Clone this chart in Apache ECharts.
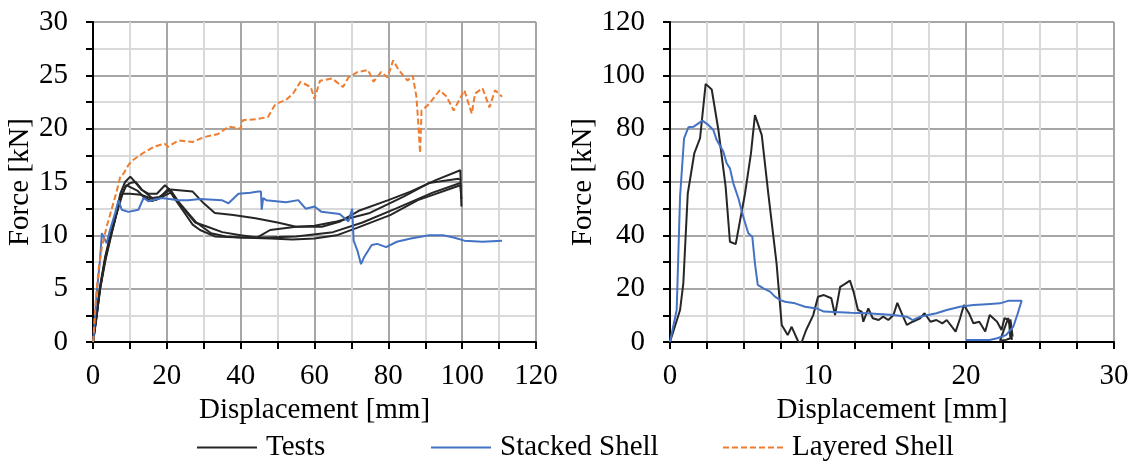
<!DOCTYPE html>
<html>
<head>
<meta charset="utf-8">
<script src="https://cdn.jsdelivr.net/npm/echarts@6/dist/echarts.min.js"></script>
<style>
  html, body { margin: 0; padding: 0; background: #fff; }
  #main { width: 1134px; height: 468px; }
</style>
</head>
<body>
<div id="main"></div>
<script>
// left panel: [displacement mm, force kN]
var leftTest1 = [[0, 0], [1, 2.4], [1.9, 5], [3.3, 7.8], [4.6, 9.7], [6, 11.5], [7.4, 13.5], [8.7, 14.5], [10, 14.9], [11.5, 15.0], [13.2, 14.3], [16, 13.5], [18, 13.6], [21, 14.3], [24, 14.2], [27, 14.1], [30, 13.0], [33, 12.1], [38, 11.9], [44, 11.6], [50, 11.2], [55, 10.8], [62, 10.8], [67, 11.3], [72, 12.3], [80, 13.3], [86, 14.1], [93, 15.2], [99.5, 16.1], [99.8, 12.7]];
var leftTest2 = [[0, 0], [1, 2.5], [1.9, 5.2], [3.3, 8], [4.6, 9.9], [6, 11.7], [7.4, 13.9], [8.7, 15], [10.1, 15.5], [11.4, 15], [13.2, 14.25], [15, 13.9], [17.3, 13.9], [19.5, 14.7], [21.3, 14.1], [24, 12.7], [27.7, 11.2], [31, 10.8], [35, 10.3], [40, 10.0], [44.5, 9.8], [48, 10.5], [55, 10.8], [60, 10.9], [66, 11.3], [75, 12.1], [84, 13.6], [91, 14.9], [99, 15.3], [99.7, 15.2]];
var leftTest3 = [[0, 0], [0.8, 2.2], [1.8, 4.8], [3.1, 7.4], [4.4, 9.4], [5.8, 11.3], [7.2, 13.2], [9, 14.7], [12, 14.2], [14, 13.5], [16, 13.2], [18, 13.5], [20.5, 14.4], [22, 13.5], [25, 12.0], [27, 11.0], [29, 10.5], [33, 9.9], [40, 9.8], [48, 9.7], [54, 9.6], [60, 9.7], [66, 10.0], [71.5, 10.7], [80.5, 11.9], [88, 13.3], [99.5, 14.7], [99.8, 13.4]];
var leftTest4 = [[0, 0], [0.9, 2.3], [2, 5.1], [3.4, 7.7], [4.8, 9.8], [6.2, 11.8], [8, 13.9], [10, 13.9], [13, 13.8], [17, 13.3], [21, 14.0], [24, 12.8], [28, 11.2], [32, 10.2], [36, 9.9], [40, 9.8], [47, 9.8], [55, 9.9], [65, 10.3], [73, 11.2], [82, 12.5], [92, 14.0], [99.5, 14.9]];
var leftStacked = [[0, 0], [0.1, 0.2], [1, 4.6], [1.9, 7.7], [2.4, 10.2], [3.7, 9.25], [4.6, 10.5], [6, 12.1], [6.9, 13.3], [7.8, 12.4], [9.6, 12.2], [12.3, 12.4], [13.7, 13.5], [15, 13.2], [18.6, 13.5], [23.2, 13.3], [25.8, 13.3], [29, 13.4], [34.9, 13.3], [36.7, 13.0], [39.4, 13.9], [42.6, 14.0], [44.8, 14.1], [45.5, 14.1], [45.7, 12.4], [46.1, 13.5], [46.9, 13.3], [52.3, 13.1], [55.6, 13.3], [57.6, 12.5], [60, 12.7], [61.9, 12.2], [66.8, 12.0], [69.2, 11.3], [70.2, 12.5], [70.6, 9.5], [71.6, 8.6], [72.6, 7.3], [73.5, 8.0], [75.5, 9.1], [77, 9.2], [79.4, 8.9], [82.3, 9.4], [86.1, 9.7], [91, 10.0], [94.8, 10.0], [97.7, 9.8], [100.6, 9.5], [105.5, 9.4], [110.8, 9.5]];
var leftLayered = [[0, 0], [0.1, 0.2], [0.6, 3.3], [1.5, 6.75], [2.4, 8.9], [3.7, 10.8], [4.6, 11.9], [5.5, 13], [6.4, 14.1], [7.4, 15.5], [8.3, 15.8], [9.6, 16.6], [10.6, 17.0], [13.5, 17.7], [16.5, 18.3], [19.4, 18.6], [20.3, 18.3], [23.2, 18.9], [27, 18.75], [30, 19.2], [33.9, 19.5], [36.8, 20.2], [40, 20.0], [40.6, 20.8], [44.5, 20.9], [47.4, 21.1], [49.4, 22.3], [52.3, 22.7], [54.2, 23.3], [56.2, 24.4], [59, 23.9], [60, 22.8], [61.5, 24.5], [64.8, 24.7], [67.7, 23.9], [69.2, 24.8], [71.6, 25.3], [74.5, 25.5], [76, 24.4], [78, 25.3], [79.8, 24.8], [81.3, 26.4], [82.8, 25.5], [85.2, 24.5], [86.6, 25.0], [87.6, 23.0], [88, 21.1], [88.6, 17.7], [89, 21.7], [91, 22.3], [93.9, 23.6], [95.8, 23.0], [97.7, 21.7], [100.6, 23.6], [102.6, 21.4], [103.5, 23.3], [105.5, 23.8], [107.4, 22.0], [108.9, 23.6], [110.8, 23.0]];

// right panel: [displacement mm, force kN]
var rightTest = [[0, 0], [0.68, 12], [0.9, 22], [1.2, 55.7], [1.64, 70.7], [2.03, 76.4], [2.41, 96.8], [2.82, 94.7], [3.27, 79.5], [3.76, 58.2], [4.05, 37.6], [4.44, 36.7], [5.07, 55.7], [5.47, 70.7], [5.74, 85.1], [6.2, 77.6], [6.64, 55.7], [7.2, 29.5], [7.55, 6.4], [7.95, 2.6], [8.22, 5.7], [8.67, 0.1], [8.9, 0], [9.2, 4.5], [9.68, 10.1], [10.0, 17], [10.4, 17.6], [10.9, 16.4], [11.15, 10.1], [11.5, 20.7], [11.8, 21.7], [12.16, 23], [12.4, 18.9], [12.7, 12], [12.95, 11.4], [13.06, 7.6], [13.4, 12.6], [13.7, 8.9], [14.1, 8.25], [14.4, 9.5], [14.75, 8.25], [15.1, 10.1], [15.36, 14.7], [15.65, 10.8], [16.0, 6.4], [16.4, 7.6], [16.9, 8.9], [17.2, 10.8], [17.6, 7.6], [18.0, 8.25], [18.4, 7], [18.7, 8.25], [19.3, 3.9], [19.6, 8.9], [19.86, 13.9], [20.2, 10.8], [20.5, 7], [20.9, 7.6], [21.3, 3.9], [21.6, 10.1], [22.1, 7.6], [22.4, 4.5], [22.6, 8.9], [22.9, 8.25], [23.0, 1.4], [22.7, 0.8], [22.3, 0.5], [22.85, 9], [23.1, 0.8], [23.0, 8.5], [23.15, 2]];
var rightStacked = [[0, 0], [0.45, 12], [0.68, 54.5], [0.95, 76.4], [1.24, 80.5], [1.58, 80.7], [2.19, 83], [2.59, 81.4], [2.93, 79.5], [3.15, 75.8], [3.6, 71.4], [3.83, 67], [4.05, 65.1], [4.28, 59.5], [4.62, 53.9], [4.95, 47], [5.29, 40.8], [5.56, 39.5], [5.74, 29.5], [5.93, 21.4], [6.31, 20.1], [6.76, 18.9], [7.09, 17], [7.43, 15.8], [7.77, 15.1], [8.45, 14.5], [9.12, 13.2], [9.9, 12.6], [10.4, 11.4], [12.2, 11.0], [13.3, 10.8], [15.1, 10.1], [16.0, 9.5], [16.4, 8.2], [16.9, 9.5], [18.0, 10.8], [18.7, 12], [19.6, 13.2], [20.5, 13.9], [21.4, 14.2], [22.3, 14.5], [22.9, 15.5], [23.76, 15.5], [23.5, 10.8], [23.2, 5.8], [22.7, 2.6], [22.1, 1.4], [21.6, 0.75], [20.0, 0.75]];

var chartDom = document.getElementById('main');
var myChart = echarts.init(chartDom);
var option;

var FONT = '"Liberation Serif", "Times New Roman", serif';
var FS = 29;
var testColor = '#262626';
var blue = '#4472C4';
var orange = '#ED7D31';

function xAxis(grid, max, interval, minorSplit) {
  return {
    type: 'value',
    gridIndex: grid,
    min: 0,
    max: max,
    interval: interval,
    name: 'Displacement [mm]',
    nameLocation: 'middle',
    nameGap: 50,
    nameTextStyle: { fontFamily: FONT, fontSize: FS, color: '#000' },
    axisLine: { lineStyle: { color: '#000', width: 2 } },
    axisTick: { length: 7, lineStyle: { color: '#000', width: 2 } },
    minorTick: { show: true, splitNumber: minorSplit, length: 7, lineStyle: { color: '#000', width: 2 } },
    axisLabel: { fontFamily: FONT, fontSize: FS, color: '#000', margin: 20 },
    splitLine: { lineStyle: { color: '#a6a6a6', width: 2 } },
    minorSplitLine: { show: true, lineStyle: { color: '#d9d9d9', width: 2 } }
  };
}

function yAxis(grid, max, interval) {
  return {
    type: 'value',
    gridIndex: grid,
    min: 0,
    max: max,
    interval: interval,
    name: 'Force [kN]',
    nameLocation: 'middle',
    nameGap: 56,
    nameTextStyle: { fontFamily: FONT, fontSize: FS, color: '#000' },
    axisLine: { show: true, lineStyle: { color: '#000', width: 2 } },
    axisTick: { show: true, length: 7, lineStyle: { color: '#000', width: 2 } },
    minorTick: { show: true, splitNumber: 2, length: 7, lineStyle: { color: '#000', width: 2 } },
    axisLabel: { fontFamily: FONT, fontSize: FS, color: '#000', margin: 25 },
    splitLine: { lineStyle: { color: '#a6a6a6', width: 2 } },
    minorSplitLine: { show: true, lineStyle: { color: '#d9d9d9', width: 2 } }
  };
}

function line(name, data, grid, color, dashed) {
  return {
    name: name,
    type: 'line',
    xAxisIndex: grid,
    yAxisIndex: grid,
    data: data,
    symbol: 'none',
    animation: false,
    lineStyle: { color: color, width: 2, type: dashed ? [6, 3] : 'solid' },
    itemStyle: { color: color },
    z: dashed ? 4 : 3
  };
}

function legend(name, left) {
  return {
    data: [name],
    left: left,
    top: 433,
    padding: 0,
    itemWidth: 60,
    itemHeight: 14,
    itemStyle: { opacity: 0 },
    textStyle: { fontFamily: FONT, fontSize: FS, color: '#000', padding: [0, 0, 0, 4] }
  };
}

option = {
  animation: false,
  grid: [
    { left: 93, right: 598, top: 22, bottom: 126 },
    { left: 670, right: 20, top: 22, bottom: 126 }
  ],
  legend: [legend('Tests', 196), legend('Stacked Shell', 430), legend('Layered Shell', 722)],
  xAxis: [xAxis(0, 120, 20, 2), xAxis(1, 30, 10, 4)],
  yAxis: [yAxis(0, 30, 5), yAxis(1, 120, 20)],
  series: [
    line('Tests', leftTest1, 0, testColor),
    line('Tests', leftTest2, 0, testColor),
    line('Tests', leftTest3, 0, testColor),
    line('Tests', leftTest4, 0, testColor),
    line('Stacked Shell', leftStacked, 0, blue),
    line('Layered Shell', leftLayered, 0, orange, true),
    line('Tests', rightTest, 1, testColor),
    line('Stacked Shell', rightStacked, 1, blue)
  ]
};

option && myChart.setOption(option);
</script>
</body>
</html>
